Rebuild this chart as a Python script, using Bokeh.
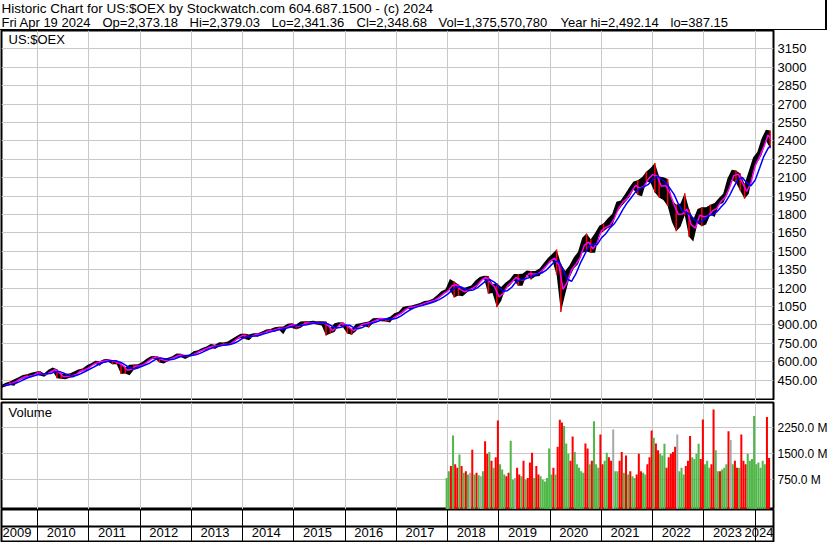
from bokeh.plotting import figure
from bokeh.models import Range1d, FixedTicker, Label, Span
from bokeh.layouts import column
from bokeh.embed import file_html
from bokeh.resources import INLINE
from bokeh.core.properties import value

FONT = "Liberation Sans"

# ---------------- texts ----------------
title_line = "Historic Chart for US:$OEX by Stockwatch.com 604.687.1500 - (c) 2024"
quote_items = ["Fri Apr 19 2024", "Op=2,373.18", "Hi=2,379.03", "Lo=2,341.36",
               "Cl=2,348.68", "Vol=1,375,570,780", "Year hi=2,492.14", "lo=387.15"]
symbol = "US:$OEX"
volume_title = "Volume"

# ---------------- monthly price data, Apr 2009 .. Apr 2024 ----------------
first_year, first_month = 2009, 4
price_close = [
    403, 425, 424, 455, 470, 487, 477, 505, 514,
    491, 502, 532, 538, 492, 465, 498, 475, 517, 535, 533, 570,
    585, 603, 600, 617, 608, 596, 582, 550, 512, 567, 565, 570,
    596, 622, 642, 638, 598, 620, 628, 642, 660, 648, 650, 655,
    682, 690, 710, 722, 735, 722, 755, 732, 752, 785, 806, 826,
    790, 818, 825, 828, 845, 860, 850, 880, 868, 885, 905, 900,
    875, 925, 910, 918, 925, 905, 925, 865, 845, 912, 912, 898,
    855, 852, 905, 905, 920, 918, 952, 952, 950, 932, 965, 985,
    1003, 1043, 1043, 1052, 1065, 1070, 1092, 1092, 1112, 1140, 1170, 1182,
    1255, 1205, 1170, 1172, 1198, 1205, 1250, 1288, 1292, 1198, 1220, 1110,
    1200, 1238, 1262, 1312, 1225, 1310, 1328, 1302, 1328, 1355, 1400, 1442,
    1450, 1330, 1175, 1320, 1380, 1405, 1490, 1610, 1540, 1495, 1640, 1700,
    1690, 1735, 1800, 1900, 1905, 1960, 2010, 2065, 1965, 2100, 2085, 2168,
    2065, 2000, 2075, 1880, 1880, 1725, 1885, 1805, 1630, 1750, 1840, 1725,
    1850, 1810, 1890, 1925, 1955, 2085, 2150, 2110, 2010, 1965, 2150, 2250,
    2290, 2410, 2485, 2349,
]
price_high = [
    410, 430, 440, 458, 475, 492, 498, 510, 518,
    525, 505, 535, 553, 540, 505, 502, 505, 520, 538, 545, 572,
    588, 608, 605, 620, 622, 608, 613, 585, 555, 575, 578, 580,
    598, 624, 646, 648, 640, 622, 632, 645, 668, 665, 652, 660,
    685, 695, 712, 724, 745, 740, 760, 758, 765, 788, 808, 828,
    828, 822, 832, 832, 848, 864, 868, 882, 885, 888, 910, 915,
    905, 928, 930, 930, 935, 930, 930, 928, 875, 915, 922, 920,
    895, 865, 908, 915, 922, 928, 955, 958, 958, 955, 968, 995,
    1008, 1046, 1055, 1058, 1070, 1080, 1095, 1100, 1115, 1142, 1175, 1192,
    1275, 1255, 1230, 1200, 1210, 1222, 1262, 1292, 1302, 1300, 1235, 1240,
    1210, 1245, 1270, 1315, 1315, 1318, 1345, 1340, 1340, 1360, 1405, 1448,
    1480, 1515, 1400, 1340, 1385, 1450, 1495, 1612, 1645, 1600, 1650, 1710,
    1730, 1770, 1805, 1905, 1915, 1965, 2020, 2070, 2080, 2105, 2150, 2180,
    2220, 2110, 2105, 2090, 1920, 1880, 1890, 1975, 1845, 1760, 1845, 1860,
    1860, 1880, 1895, 1935, 1970, 2095, 2165, 2160, 2135, 2050, 2155, 2265,
    2310, 2420, 2492, 2485,
]
price_low = [
    387, 400, 410, 405, 447, 462, 475, 475, 500,
    488, 478, 502, 525, 465, 462, 458, 470, 475, 512, 522, 535,
    568, 583, 570, 595, 598, 580, 580, 500, 505, 490, 535, 545,
    570, 596, 620, 625, 595, 586, 605, 625, 640, 640, 622, 640,
    660, 675, 690, 695, 718, 705, 725, 730, 735, 745, 780, 795,
    785, 775, 810, 805, 822, 845, 848, 845, 862, 825, 885, 875,
    865, 875, 900, 905, 912, 902, 895, 815, 830, 842, 900, 880,
    830, 820, 850, 895, 890, 880, 915, 945, 930, 928, 920, 965,
    980, 1000, 1030, 1030, 1045, 1060, 1065, 1075, 1085, 1110, 1135, 1165,
    1185, 1125, 1140, 1135, 1165, 1190, 1200, 1245, 1280, 1155, 1160, 1045,
    1095, 1195, 1220, 1262, 1220, 1220, 1310, 1270, 1295, 1300, 1355, 1395,
    1425, 1310, 1005, 1150, 1285, 1360, 1395, 1490, 1500, 1490, 1490, 1640,
    1665, 1690, 1705, 1810, 1860, 1900, 1940, 2005, 1960, 1950, 2070, 2060,
    1980, 1940, 1920, 1870, 1740, 1665, 1700, 1795, 1620, 1580, 1730, 1705,
    1720, 1800, 1780, 1880, 1895, 1965, 2085, 2060, 1995, 1930, 1970, 2145,
    2225, 2285, 2405, 2341,
]
# moving averages read at month ends (magenta = short, blue = long)
ma_short = [
    403, 414, 425, 440, 462, 478, 482, 491, 510,
    502, 496, 517, 535, 515, 478, 482, 486, 496, 526, 534, 552,
    578, 594, 602, 608, 612, 602, 589, 566, 531, 540, 566, 568,
    583, 609, 632, 640, 618, 609, 624, 635, 651, 654, 649, 652,
    668, 686, 700, 716, 728, 728, 738, 744, 742, 768, 796, 816,
    808, 804, 822, 826, 836, 852, 855, 865, 874, 876, 895, 902,
    888, 900, 918, 914, 922, 915, 915, 895, 855, 878, 912, 905,
    876, 854, 878, 905, 912, 919, 935, 952, 951, 941, 948, 975,
    994, 1023, 1043, 1048, 1058, 1068, 1081, 1092, 1102, 1126, 1155, 1176,
    1218, 1230, 1188, 1171, 1185, 1202, 1228, 1269, 1290, 1245, 1209, 1130,
    1155, 1219, 1250, 1287, 1268, 1268, 1319, 1315, 1315, 1342, 1378, 1421,
    1446, 1390, 1190, 1250, 1350, 1395, 1450, 1550, 1575, 1520, 1570, 1670,
    1695, 1712, 1768, 1850, 1902, 1932, 1985, 2038, 2015, 2032, 2092, 2126,
    2116, 2032, 2038, 1978, 1880, 1802, 1805, 1845, 1718, 1690, 1795, 1782,
    1788, 1830, 1850, 1908, 1940, 2020, 2118, 2130, 2060, 1988, 2058, 2200,
    2270, 2350, 2448, 2420,
]
ma_long = [
    403, 410, 418, 426, 442, 460, 474, 484, 494,
    501, 503, 505, 516, 522, 510, 492, 482, 488, 503, 519, 537,
    554, 574, 591, 601, 608, 608, 601, 586, 562, 546, 546, 558,
    572, 586, 608, 627, 630, 622, 617, 623, 637, 647, 651, 652,
    657, 669, 685, 701, 715, 724, 732, 737, 741, 751, 769, 793,
    806, 809, 811, 817, 828, 838, 848, 857, 865, 872, 882, 891,
    895, 897, 902, 910, 918, 917, 917, 908, 888, 876, 882, 898,
    898, 878, 870, 879, 899, 912, 922, 935, 946, 948, 947, 955,
    972, 997, 1020, 1038, 1050, 1058, 1069, 1080, 1092, 1107, 1128, 1152,
    1183, 1208, 1212, 1196, 1181, 1186, 1205, 1233, 1262, 1268, 1248, 1206,
    1176, 1180, 1208, 1252, 1268, 1274, 1285, 1300, 1316, 1324, 1345, 1380,
    1415, 1419, 1350, 1275, 1255, 1316, 1400, 1470, 1540, 1560, 1555, 1610,
    1644, 1692, 1725, 1777, 1840, 1895, 1940, 1985, 2012, 2028, 2047, 2084,
    2112, 2092, 2062, 2016, 1965, 1887, 1829, 1818, 1789, 1751, 1734, 1756,
    1788, 1800, 1822, 1862, 1899, 1956, 2026, 2089, 2102, 2059, 2035, 2082,
    2176, 2273, 2340, 2360,
]
last_date = 2024.30          # Apr 19 2024 as a decimal year

# ---------------- half-month volume (millions), from late Dec 2017 ----------------
vol_first_half_month = 2017 + 11.5 / 12
volume = [
    800,
    1000, 1150, 2030, 1200, 1100, 1480, 1150, 950, 1000, 900, 950, 1620,
    900, 950, 880, 850, 1000, 1860, 1500, 1550, 1300, 1100, 1400, 2460,
    1200, 1050, 900, 850, 950, 1880, 750, 800, 1100, 900, 850, 1300,
    750, 800, 1250, 1530, 800, 1150, 900, 850, 750, 700, 800, 1650,
    900, 1100, 900, 1700, 2480, 2400, 2300, 1800, 1500, 1300, 2000, 1550,
    1200, 1100, 1000, 950, 1800, 1650, 1200, 1300, 2440, 1200, 1100, 2060,
    1200, 1300, 1530, 1400, 1300, 2200, 1000, 1000, 1300, 1550, 950, 1450,
    900, 1000, 850, 800, 900, 1500, 1000, 950, 900, 1200, 1400, 2170,
    1960, 1800, 1600, 1500, 1450, 1790, 1100, 1400, 1500, 1550, 1700, 2060,
    1000, 1100, 900, 1150, 1300, 2010, 1400, 1350, 1500, 1790, 1350, 2490,
    1200, 1300, 1100, 1200, 2780, 1600, 1000, 1000, 1050, 1100, 1200, 2150,
    1900, 1200, 1300, 1100, 1100, 2060, 1300, 1200, 1500, 1300, 1350, 2590,
    1200, 1250, 1100, 1300, 1200, 2560, 1380,
]
volume_dir = [
    "g",
    "g", "r", "g", "r", "r", "g", "r", "g", "r", "g", "y", "r",
    "g", "r", "g", "y", "g", "r", "r", "g", "r", "g", "r", "r",
    "g", "g", "g", "r", "r", "g", "g", "y", "r", "r", "g", "r",
    "g", "r", "r", "r", "g", "r", "r", "g", "g", "g", "g", "g",
    "g", "r", "g", "r", "r", "r", "g", "g", "g", "r", "r", "g",
    "g", "g", "g", "g", "r", "r", "g", "r", "g", "g", "g", "r",
    "r", "g", "g", "r", "r", "y", "g", "g", "r", "r", "g", "r",
    "g", "r", "g", "g", "r", "r", "r", "g", "g", "r", "r", "r",
    "g", "r", "r", "g", "g", "g", "r", "r", "r", "r", "r", "y",
    "g", "g", "g", "r", "r", "r", "g", "g", "g", "g", "r", "r",
    "g", "g", "g", "r", "r", "g", "g", "r", "g", "g", "g", "r",
    "y", "g", "r", "r", "g", "r", "r", "r", "g", "g", "g", "g",
    "g", "g", "g", "g", "g", "r", "r",
]

# ---------------- axes ----------------
price_ticks = [450, 600, 750, 900, 1050, 1200, 1350, 1500, 1650, 1800,
               1950, 2100, 2250, 2400, 2550, 2700, 2850, 3000, 3150]
price_tick_labels = ["450.00", "600.00", "750.00", "900.00", "1050", "1200", "1350",
                     "1500", "1650", "1800", "1950", "2100", "2250", "2400", "2550",
                     "2700", "2850", "3000", "3150"]
vol_ticks = [750, 1500, 2250]
vol_tick_labels = ["750.0 M", "1500.0 M", "2250.0 M"]
year_labels = ["2009", "2010", "2011", "2012", "2013", "2014", "2015", "2016",
               "2017", "2018", "2019", "2020", "2021", "2022", "2023", "2024"]

n = len(price_close)
assert n == len(price_high) == len(price_low) == len(ma_short) == len(ma_long) == 181
assert len(volume) == len(volume_dir)

# ---------------- layout constants ----------------
W = 830
BL, BR = 1, 56
GRID = "#c8c8c8"
xr = Range1d(2009.293, 2024.357)
year_bounds = [int(y) + 1 for y in year_labels[:-1]]


def style_right_axis(f, ticks, labels, size):
    ax = f.yaxis[0]
    ax.ticker = FixedTicker(ticks=ticks)
    ax.major_label_overrides = {t: l for t, l in zip(ticks, labels)}
    ax.axis_line_color = None
    ax.major_tick_line_color = None
    ax.minor_tick_line_color = None
    ax.major_tick_out = 0
    ax.major_tick_in = 0
    ax.minor_tick_out = 0
    ax.major_label_standoff = 4
    ax.major_label_text_font = FONT
    ax.major_label_text_font_size = size
    ax.major_label_text_color = "black"
    f.ygrid.ticker = FixedTicker(ticks=ticks)
    f.xgrid.ticker = FixedTicker(ticks=year_bounds)
    f.grid.grid_line_color = GRID
    f.grid.grid_line_width = 1


def label(x, y, text, size="13px"):
    return Label(x=x, y=y, x_units="screen", y_units="screen", text=text,
                 text_font=FONT, text_font_size=size, text_color="black",
                 text_baseline="middle")


# ---------------- header (boxed with a CSS border on its right and bottom) ----------------
hdr = figure(width=W - 3, height=30, x_range=Range1d(0, W - 3), y_range=Range1d(30, 0),
             output_backend="svg", toolbar_location=None, min_border=0,
             x_axis_location=None, y_axis_location=None, outline_line_color=None,
             styles={"border-right": "2px solid black", "border-bottom": "1px solid black"})
hdr.grid.visible = False
hdr.add_layout(label(1, 22.5, title_line, "13.5px"))
quote_x = [1, 102, 189, 271, 356, 438, 560, 670]
for qx, qt in zip(quote_x, quote_items):
    hdr.add_layout(label(qx, 8, qt))

# ---------------- price panel ----------------
p = figure(width=W, height=370, x_range=xr, y_range=Range1d(284.5, 3300.8),
           output_backend="svg", toolbar_location=None,
           x_axis_location=None, y_axis_location="right",
           min_border_left=BL, min_border_right=BR, min_border_top=0, min_border_bottom=0,
           outline_line_color="black", outline_line_width=2)
style_right_axis(p, price_ticks, price_tick_labels, "13px")

m_center = [first_year + (first_month - 1 + k + 0.5) / 12 for k in range(n)]
m_end = [min(first_year + (first_month + k) / 12, last_date) for k in range(n)]

p.varea(x=m_center, y1=price_low, y2=price_high, fill_color="black")
down = [k for k in range(1, n) if price_close[k] < price_close[k - 1]]
p.segment(x0=[m_center[k] for k in down], y0=[price_low[k] for k in down],
          x1=[m_center[k] for k in down], y1=[price_high[k] for k in down],
          line_color="#ff0000", line_width=1.5)
p.line(x=m_end, y=ma_short, line_color="#ff00ff", line_width=1.5)
p.line(x=m_end, y=ma_long, line_color="#0000ff", line_width=1.5)
p.add_layout(label(7, 361.5, symbol))

# ---------------- volume panel ----------------
vr = Range1d(-107, 2980)
v = figure(width=W, height=109, x_range=xr, y_range=vr,
           output_backend="svg", toolbar_location=None,
           x_axis_location=None, y_axis_location="right",
           min_border_left=BL, min_border_right=BR, min_border_top=2, min_border_bottom=0,
           outline_line_color="black", outline_line_width=2)
style_right_axis(v, vol_ticks, vol_tick_labels, "12px")
cmap = {"g": "#4fb848", "r": "#ff0000", "y": "#a8a8a8"}
vx = [vol_first_half_month + (i + 0.5) / 24 for i in range(len(volume))]
v.vbar(x=vx, width=0.95 / 24, top=volume, bottom=vr.start,
       fill_color=[cmap[c] for c in volume_dir], line_color=None)
v.add_layout(label(7, 97, volume_title))

# ---------------- year strip ----------------
xa = figure(width=W, height=33, x_range=xr, y_range=Range1d(0, 33),
            output_backend="svg", toolbar_location=None,
            x_axis_location=None, y_axis_location=None,
            min_border_left=BL, min_border_right=BR, min_border_top=0, min_border_bottom=0,
            outline_line_color="black", outline_line_width=2)
xa.ygrid.visible = False
xa.xgrid.ticker = FixedTicker(ticks=year_bounds)
xa.xgrid.grid_line_color = "black"
xa.xgrid.grid_line_width = 1
xa.add_layout(Span(location=16, dimension="width", line_color="black", line_width=2))
year_starts = [int(y) for y in year_labels[1:-1]]
txt = dict(text_baseline="middle", text_font=value(FONT), text_font_size="13px",
           text_color="black")
xa.text(x=[xr.start], y=[10], text=[year_labels[0]], text_align="left", x_offset=1, **txt)
xa.text(x=year_starts, y=[10] * len(year_starts), text=year_labels[1:-1],
        text_align="left", x_offset=9, **txt)
xa.text(x=[xr.end], y=[10], text=[year_labels[-1]], text_align="right", **txt)

layout = column(hdr, column(p, v, xa, spacing=0), spacing=0)
open("out.html", "w").write(file_html(layout, INLINE))
